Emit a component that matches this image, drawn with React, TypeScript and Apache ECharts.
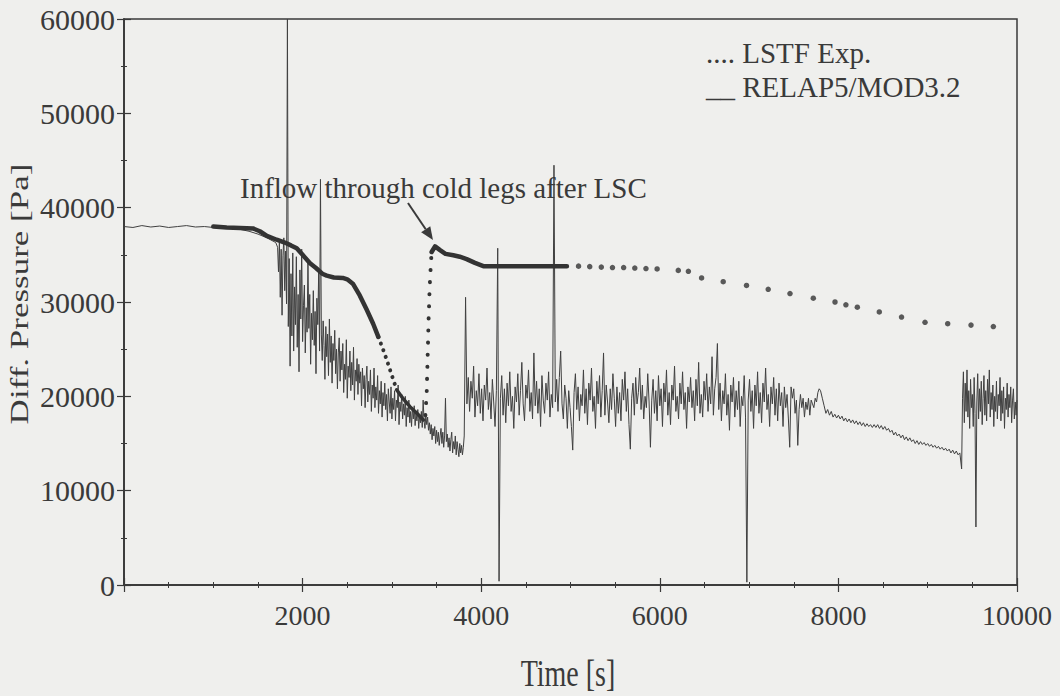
import React, { useEffect, useRef } from 'react';
import * as echarts from 'echarts';

const FONT = "'Liberation Serif', 'Times New Roman', serif";
const INK = '#3a3a3a';

// Axis ticks
const xTicks = [0, 2000, 4000, 6000, 8000, 10000];
const yTicks = [0, 10000, 20000, 30000, 40000, 50000, 60000];

// Legend names
const legendNames = ['LSTF Exp.', 'RELAP5/MOD3.2'];
const legendMarks: Record<string, string> = { 'LSTF Exp.': '....', 'RELAP5/MOD3.2': '__' };

// LSTF Exp. [time s, pressure Pa] (dense part drawn as thick line, sparse part as dots)
const lstfSolidA: [number, number][] = [
  [1000, 38000], [1150, 37900], [1300, 37850], [1445, 37800], [1520, 37500], [1600, 37000],
  [1710, 36600], [1800, 36300], [1870, 36000], [1934, 35700], [2000, 35000], [2083, 34100],
  [2150, 33600], [2220, 33000], [2270, 32800], [2350, 32600], [2450, 32550], [2500, 32400],
  [2566, 31900], [2640, 30700], [2717, 29200], [2790, 27700], [2848, 26300],
];
const lstfDotsDrop: [number, number][] = [
  [2848, 26300], [2900, 25000], [2941, 23900], [3000, 22200], [3053, 20700],
];
const lstfSolidB: [number, number][] = [
  [3053, 20700], [3130, 19700], [3202, 18900], [3280, 18200], [3352, 17500],
];
const lstfDotsRise: [number, number][] = [
  [3375, 18000], [3390, 20500], [3401, 24500], [3412, 28500], [3424, 31800], [3436, 34000], [3445, 35300],
];
const lstfSolidC: [number, number][] = [
  [3445, 35300], [3483, 35900], [3539, 35500], [3600, 35100], [3688, 34950], [3760, 34800],
  [3837, 34550], [3930, 34150], [4024, 33800], [4500, 33800], [4960, 33800],
];
const lstfSparse: [number, number][] = [
  [5090, 33800], [5215, 33750], [5345, 33700], [5470, 33650], [5595, 33650], [5720, 33600],
  [5845, 33550], [5970, 33500], [6207, 33350], [6320, 33250], [6468, 32550], [6710, 32150],
  [6971, 31750], [7214, 31350], [7458, 30900], [7719, 30400], [7962, 30000], [8084, 29700],
  [8212, 29450], [8458, 28950], [8707, 28400], [8970, 27850], [9224, 27700], [9485, 27550],
  [9735, 27400],
];

// RELAP5/MOD3.2 pressure samples [Pa]; each segment is sampled on a regular time grid
const relapStartT0 = 0, relapStartDt = 100;
const relapStart = [
  38000, 37900, 38100, 37950, 38050, 37900, 38000, 38100, 37950, 38000, 37900, 37850, 37800,
  37700, 37500, 37200, 36800, 36300,
];
const relapFallT0 = 1720, relapFallDt = 10;
const relapFall = [
  35800, 33200, 36400, 30500, 35600, 28600, 34900, 36800, 31200, 35400,
  29800, 60000, 27400, 34600, 23200, 33000, 26400, 35200, 24800, 31600,
  27600, 34800, 25200, 30800, 22600, 33400, 28200, 35600, 25800, 29600,
  31800, 24600, 29400, 26800, 34200, 27200, 30800, 23400, 28800, 26000,
  31200, 25400, 29000, 22400, 30400, 27600, 33200, 24800, 43000, 26600,
  23800, 28000, 25400, 21800, 27400, 24200, 26600, 22200, 28200, 23600,
  26400, 21400, 25600, 23800, 27000, 22400, 25000, 20800, 24600, 26200,
  21600, 24800, 22800, 25600, 20400, 23400, 21800, 26000, 19800, 23200,
  22000, 24800, 20600, 23600, 21200, 25200, 19600, 22800, 21600, 24000,
  20200, 23400, 21400, 22600, 19000, 23000, 20800, 22200, 18800, 21800,
  23200, 19400, 21600, 20200, 22800, 18400, 21200, 19800, 23000, 18800,
  21000, 19600, 22200, 18200, 20600, 19200, 21600, 17800, 20400, 19000,
  21400, 18600, 20200, 17400, 20800, 19400, 18200, 21000, 17600, 19800,
  18600, 20600, 17400, 19600, 18800, 21200, 17000, 19400, 18400, 20200,
  17600, 19200, 18000, 20000, 16800, 18800, 17800, 19600, 17200, 18400,
  16800, 18800, 17600, 19000, 16900, 18200, 17400, 18600, 16600, 18000,
  17200, 18400, 16700, 19600, 17400, 16600, 18000, 17000, 17800, 16400,
  17200, 16000, 17000, 15400, 16600, 15800, 16800, 15000, 16400, 15200,
  16200, 14800, 15800, 16600, 15000, 16200, 14600, 15800, 19800, 15200,
  16000, 14600, 15600, 14200, 15400, 16200, 14000, 15200, 14400, 15800,
  13800, 15200, 14400, 13600, 15000, 14000, 14800, 13800, 14600,
];
const relapPlateauT0 = 3810, relapPlateauDt = 15;
const relapPlateau = [
  15800, 30500, 19200, 22000, 18400, 21600, 19800, 23200, 17800, 20600,
  19000, 22400, 18200, 20800, 17400, 21200, 19600, 23000, 18600, 20400,
  17600, 21800, 19400, 16800, 20600, 35700, 400, 19800, 22200, 18000,
  20800, 17200, 21400, 19000, 22600, 18400, 20000, 16600, 21000, 19400,
  22400, 18000, 20600, 23600, 19200, 17400, 21200, 19800, 22800, 18400,
  20400, 17600, 24600, 19000, 21600, 18200, 20800, 16800, 22200, 19600,
  18200, 21400, 19600, 22600, 17800, 20200, 18800, 44500, 19400, 21800,
  18400, 22000, 24800, 19200, 17600, 21200, 19800, 16600, 20600, 18800,
  16800, 14300, 20400, 22400, 18600, 21000, 17400, 20200, 19000, 22800,
  18200, 20800, 17000, 21400, 19600, 23000, 18400, 20000, 16600, 21600,
  19200, 22200, 17800, 20600, 24600, 18000, 21200, 19400, 17200, 20800,
  18600, 22400, 19800, 16800, 21000, 18200, 20400, 17400, 21800, 19600,
  22600, 18400, 20800, 17000, 14400, 19800, 21400, 18000, 22000, 19200,
  20400, 23000, 18600, 21200, 17600, 20000, 18800, 22400, 19400, 14600,
  19600, 21800, 18200, 20600, 17400, 22200, 19000, 20800, 16800, 21400,
  19400, 22800, 18000, 20400, 17000, 21200, 19600, 23200, 18400, 20000,
  17600, 21400, 19200, 22600, 18600, 20400, 16600, 21000, 19400, 22000,
  18800, 20600, 17400, 21800, 19000, 23600, 18200, 20200, 17800, 21600,
  19600, 22400, 18400, 21000, 19200, 24200, 18000, 20800, 22000, 25600,
  18600, 21400, 17400, 20600, 19200, 22400, 18000, 20200, 16400, 21200,
  19400, 22000, 17800, 20600, 18600, 21600, 16800, 20000, 19000, 22200,
  17800, 300, 19600, 21800, 18400, 20600, 16600, 21200, 19000, 22600,
  18200, 20400, 17200, 21400, 19400, 23000, 18600, 20200, 16800, 21000,
  19200, 22000, 18000, 20800, 17400, 21400, 19000, 20400, 16800, 21000,
  18800, 20200, 17600, 14600, 21000, 19800, 20800, 18200, 19600, 14800,
  18600, 20200, 18800, 19800, 17800, 19400, 18600, 19800, 18000, 19600,
  19200, 18800, 19800, 19400, 20400, 20800, 20600,
];
const relapDeclineT0 = 7820, relapDeclineDt = 20;
const relapDecline = [
  19800, 19000, 18200, 18600, 18000, 18400, 17800, 18100, 17700, 18000,
  17600, 17900, 17400, 17700, 17300, 17600, 17200, 17500, 17100, 17400,
  17000, 17300, 16900, 17200, 16800, 17100, 16800, 17000, 16700, 17000,
  16700, 17000, 16600, 16900, 16500, 16800, 16400, 16600, 16200, 16400,
  15900, 16200, 15800, 16000, 15600, 15900, 15400, 15700, 15300, 15600,
  15200, 15400, 15000, 15300, 14900, 15200, 14900, 15100, 14800, 15000,
  14700, 14900, 14600, 14800, 14500, 14700, 14400, 14600, 14300, 14500,
  14200, 14400, 14000, 14300, 13900, 14200, 13800, 14000, 12300,
];
const relapEndT0 = 9390, relapEndDt = 10;
const relapEnd = [
  19800, 22600, 17200, 21400, 18400, 22800, 17800, 20600, 16600, 21800,
  18800, 20200, 16800, 22000, 18200, 6150, 19400, 22400, 17600, 20800,
  18400, 21600, 17000, 19800, 22200, 18000, 20600, 17400, 21800, 19200,
  22800, 17800, 20400, 18600, 21200, 16800, 20000, 18400, 21600, 17600,
  20200, 19000, 22000, 17400, 20600, 18200, 21000, 16600, 19800, 18600,
  21400, 17800, 20200, 18800, 21000, 17200, 19600, 20800, 17600, 19400,
  18000, 19600,
];

// Annotation
const annotationText = 'Inflow through cold legs after LSC';
const annotationAnchor: [number, number] = [1299, 42100];
const arrowTail: [number, number] = [3180, 40500];
const arrowTip: [number, number] = [3460, 36570];

const onGrid = (t0: number, dt: number, values: number[]): [number, number][] =>
  values.map((v, i) => [t0 + i * dt, v]);

export default function App() {
  const ref = useRef<HTMLDivElement>(null);

  useEffect(() => {
    const chart = echarts.init(ref.current!, null, { renderer: 'svg' });
    const relapData = [
      ...onGrid(relapStartT0, relapStartDt, relapStart),
      ...onGrid(relapFallT0, relapFallDt, relapFall),
      ...onGrid(relapPlateauT0, relapPlateauDt, relapPlateau),
      ...onGrid(relapDeclineT0, relapDeclineDt, relapDecline),
      ...onGrid(relapEndT0, relapEndDt, relapEnd),
    ];
    const axisLine = { show: true, lineStyle: { color: INK, width: 1.5 } };
    const xBase = {
      type: 'value' as const,
      min: xTicks[0],
      max: xTicks[xTicks.length - 1],
      interval: xTicks[1] - xTicks[0],
      axisLine,
      axisTick: { show: true, inside: true, length: 7, lineStyle: { color: INK, width: 1.2 } },
      minorTick: { show: true, splitNumber: 4, length: 3, lineStyle: { color: INK, width: 1 } },
      splitLine: { show: false },
    };
    const yBase = {
      type: 'value' as const,
      min: yTicks[0],
      max: yTicks[yTicks.length - 1],
      interval: yTicks[1] - yTicks[0],
      axisLine,
      axisTick: { show: true, inside: true, length: 7, lineStyle: { color: INK, width: 1.2 } },
      minorTick: { show: true, splitNumber: 2, length: 3, lineStyle: { color: INK, width: 1 } },
      splitLine: { show: false },
    };
    const lstfColor = '#333333';
    const thick = { color: lstfColor, width: 4.5, cap: 'round' as const, join: 'round' as const };
    const option: any = {
      animation: false,
      backgroundColor: '#efefed',
      grid: { left: 124, top: 19, width: 893, height: 566, show: true, borderColor: INK, borderWidth: 1.5, backgroundColor: 'transparent' },
      xAxis: [
        {
          ...xBase,
          position: 'bottom',
          axisLabel: {
            show: true, margin: 16, fontSize: 28, fontFamily: FONT, color: INK,
            formatter: (v: number) => (v === 0 ? '' : String(v)),
          },
        },
        { ...xBase, position: 'top', axisLabel: { show: false } },
      ],
      yAxis: [
        {
          ...yBase,
          position: 'left',
          axisLabel: {
            show: true, margin: 9, fontSize: 30, fontFamily: FONT, color: INK,
            padding: [8, 0, 0, 0],
            formatter: (v: number) => String(v),
          },
        },
        { ...yBase, position: 'right', axisLabel: { show: false } },
      ],
      legend: {
        data: legendNames,
        orient: 'vertical',
        left: 696,
        top: 31,
        itemWidth: 0,
        itemHeight: 0,
        itemGap: 0,
        selectedMode: false,
        icon: 'rect',
        formatter: (n: string) => `${legendMarks[n]} ${n}`,
        textStyle: { fontFamily: FONT, fontSize: 29, color: INK, lineHeight: 34 },
      },
      series: [
        {
          name: 'RELAP5/MOD3.2', type: 'line', showSymbol: false, symbol: 'none',
          data: relapData,
          lineStyle: { color: '#404040', width: 1 }, itemStyle: { color: '#404040' }, z: 2,
        },
        { name: 'LSTF Exp.', type: 'line', symbol: 'none', data: lstfSolidA, lineStyle: thick, itemStyle: { color: lstfColor }, z: 3 },
        { name: 'LSTF Exp.', type: 'line', symbol: 'none', data: lstfDotsDrop, lineStyle: { ...thick, width: 4, type: [0.1, 7] }, z: 3 },
        { name: 'LSTF Exp.', type: 'line', symbol: 'none', data: lstfSolidB, lineStyle: { ...thick, width: 3.5 }, z: 3 },
        { name: 'LSTF Exp.', type: 'line', symbol: 'none', data: lstfDotsRise, lineStyle: { ...thick, width: 4, type: [0.1, 12] }, z: 3 },
        { name: 'LSTF Exp.', type: 'line', symbol: 'none', data: lstfSolidC, lineStyle: thick, z: 3 },
        { name: 'LSTF Exp.', type: 'scatter', symbol: 'circle', symbolSize: 5.5, data: lstfSparse, itemStyle: { color: lstfColor }, z: 3 },
      ],
      graphic: [
        {
          type: 'text', x: 20, y: 294, rotation: Math.PI / 2, scaleX: 1.4,
          style: { text: 'Diff. Pressure [Pa]', font: `25px ${FONT}`, fill: INK, align: 'center', verticalAlign: 'middle', textAlign: 'center', textVerticalAlign: 'middle' },
        },
        {
          type: 'text', x: 568, y: 673, scaleY: 1.38,
          style: { text: 'Time [s]', font: `28px ${FONT}`, fill: INK, align: 'center', verticalAlign: 'middle', textAlign: 'center', textVerticalAlign: 'middle' },
        },
      ],
    };
    chart.setOption(option);

    const px = (p: [number, number]) => chart.convertToPixel({ seriesIndex: 0 }, p) as number[];
    const a = px(annotationAnchor);
    const t0 = px(arrowTail);
    const t1 = px(arrowTip);
    const dx = t1[0] - t0[0];
    const dy = t1[1] - t0[1];
    const len = Math.sqrt(dx * dx + dy * dy);
    const ux = dx / len, uy = dy / len;
    const headL = 13, headW = 5.5;
    const bx = t1[0] - ux * headL, by = t1[1] - uy * headL;
    chart.setOption({
      graphic: [
        option.graphic[0],
        option.graphic[1],
        {
          type: 'text', x: a[0], y: a[1],
          style: { text: annotationText, font: `29px ${FONT}`, fill: INK, align: 'left', verticalAlign: 'middle', textAlign: 'left', textVerticalAlign: 'middle' },
          z: 10,
        },
        {
          type: 'line', shape: { x1: t0[0], y1: t0[1], x2: bx, y2: by },
          style: { stroke: INK, lineWidth: 2 }, z: 10,
        },
        {
          type: 'polygon',
          shape: { points: [[t1[0], t1[1]], [bx - uy * headW, by + ux * headW], [bx + uy * headW, by - ux * headW]] },
          style: { fill: INK }, z: 10,
        },
      ],
    });

    return () => chart.dispose();
  }, []);

  return <div ref={ref} style={{ position: 'fixed', left: 0, top: 0, width: 1060, height: 696 }} />;
}
